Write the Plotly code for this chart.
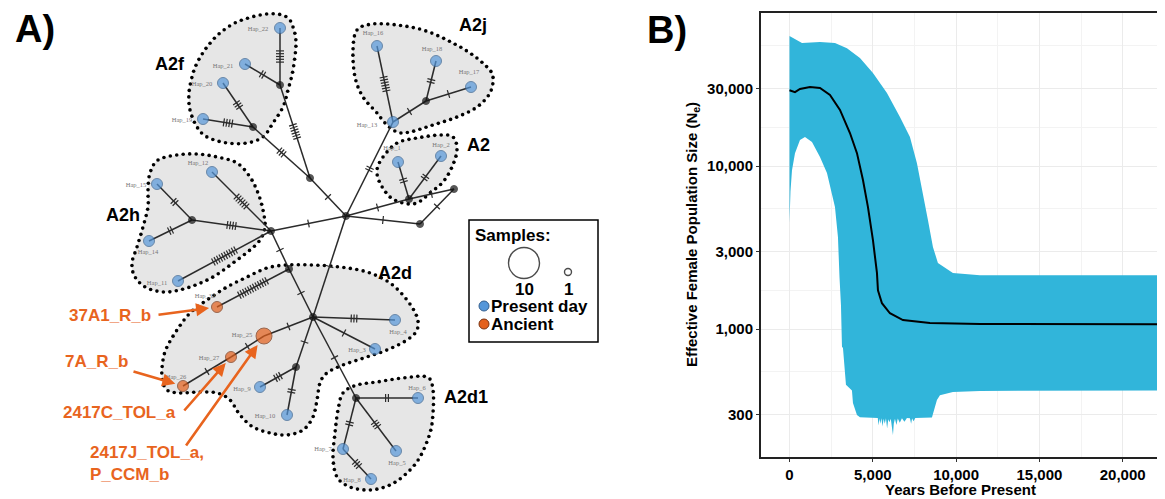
import numpy as np
import plotly.graph_objects as go

W, H = 1165, 499          # page size
OFF = 8                   # page body margin
WF, HF = W - OFF, H - OFF  # figure size

# ---------------- Panel A: haplotype network data ----------------
node_ids = ["Hap_22", "Hap_21", "Hap_20", "Hap_19", "m_f1", "m_f2", "m_f3", "C",
            "Hap_16", "Hap_18", "Hap_17", "Hap_13", "m_j",
            "Hap_1", "Hap_2", "m_a", "m_r", "m_l",
            "Hap_12", "Hap_15", "Hap_14", "Hap_11", "m_h", "m_hj", "m_d",
            "Hap_32", "C2", "Hap_4", "Hap_3", "Hap_25", "Hap_27", "Hap_26",
            "m_9", "Hap_9", "Hap_10",
            "m_d1", "Hap_6", "Hap_7", "Hap_5", "Hap_8"]
node_x = [280, 245, 223, 203, 280, 253, 310, 346,
          377, 436, 471, 393, 426,
          398, 441, 409, 454, 420,
          212, 157, 149, 178, 192, 271, 289,
          217, 313, 395, 375, 264, 231, 183,
          296, 260, 287,
          356, 418, 343, 396, 371]
node_y = [28, 64, 83, 119, 85, 127, 178, 216,
          46, 61, 87, 122, 101,
          162, 156, 199, 189, 224,
          172, 184, 241, 281, 220, 231, 269,
          307, 317, 320, 349, 336, 357, 386,
          367, 387, 415,
          398, 398, 449, 451, 479]
node_kind = ["present", "present", "present", "present", "median", "median", "median", "median",
             "present", "present", "present", "present", "median",
             "present", "present", "median", "median", "median",
             "present", "present", "present", "present", "median", "median", "median",
             "ancient", "median", "present", "present", "ancient", "ancient", "ancient",
             "median", "present", "present",
             "median", "present", "present", "present", "present"]
node_samples = {"Hap_25": 2}

edge_from = ["Hap_22", "Hap_21", "Hap_20", "Hap_19", "m_f1", "m_f2", "m_f3",
             "C", "Hap_16", "Hap_13", "m_j", "m_j",
             "C", "m_a", "m_a", "m_a", "C", "m_l",
             "m_h", "m_h", "m_h", "Hap_12", "Hap_11", "m_hj", "m_hj",
             "m_d", "m_d", "C", "C2", "C2", "C2", "Hap_25", "Hap_27",
             "C2", "m_9", "m_9", "C2", "m_d1", "m_d1", "m_d1", "Hap_7"]
edge_to = ["m_f1", "m_f1", "m_f2", "m_f2", "m_f3", "m_f3", "C",
           "Hap_13", "Hap_13", "m_j", "Hap_18", "Hap_17",
           "m_a", "Hap_1", "Hap_2", "m_r", "m_l", "m_r",
           "Hap_15", "Hap_14", "m_hj", "m_hj", "m_hj", "C", "m_d",
           "Hap_32", "C2", "C2", "Hap_4", "Hap_3", "Hap_25", "Hap_27", "Hap_26",
           "m_9", "Hap_9", "Hap_10", "m_d1", "Hap_6", "Hap_7", "Hap_5", "Hap_8"]
edge_mutations = [5, 2, 3, 4, 6, 3, 1,
                  2, 6, 1, 2, 1,
                  1, 2, 2, 1, 1, 1,
                  2, 2, 4, 6, 10, 1, 1,
                  12, 1, 1, 3, 1, 1, 1, 1,
                  1, 3, 2, 1, 2, 2, 3, 3]

hap_label_pos = {
    "Hap_22": (258, 29), "Hap_21": (223, 66), "Hap_20": (202, 84), "Hap_19": (182, 120),
    "Hap_16": (373, 33), "Hap_18": (432, 49), "Hap_17": (469, 72), "Hap_13": (367, 125),
    "Hap_1": (392, 148), "Hap_2": (441, 145), "Hap_12": (198, 163), "Hap_15": (136, 185),
    "Hap_14": (148, 252), "Hap_11": (157, 283), "Hap_32": (205, 296), "Hap_25": (242, 335),
    "Hap_27": (209, 358), "Hap_26": (176, 377), "Hap_4": (398, 332), "Hap_3": (357, 350),
    "Hap_9": (242, 389), "Hap_10": (265, 416), "Hap_6": (417, 388), "Hap_7": (323, 449),
    "Hap_5": (397, 463), "Hap_8": (352, 480),
}

clusters = ["A2f", "A2j", "A2", "A2h", "A2d", "A2d1"]
cluster_label_pos = [(170, 64), (473, 25), (478, 145), (123, 215), (395, 273), (466, 397)]
cluster_outline = {
    "A2f": [(293, 27), (296, 43), (293, 70), (288, 90), (283, 107), (273, 123), (263, 137),
            (247, 143), (227, 143), (207, 137), (197, 127), (190, 110), (189, 93), (192, 77),
            (197, 63), (207, 47), (220, 33), (237, 22), (260, 15), (277, 14), (288, 18)],
    "A2j": [(357, 30), (373, 24), (397, 25), (423, 30), (447, 40), (470, 53), (487, 67),
            (493, 77), (490, 93), (477, 107), (457, 117), (433, 125), (410, 132), (397, 132),
            (385, 123), (377, 113), (363, 97), (355, 77), (353, 50)],
    "A2": [(383, 157), (397, 143), (417, 138), (440, 135), (453, 137), (457, 150), (452, 167),
           (443, 182), (430, 193), (417, 203), (403, 203), (390, 197), (380, 183), (377, 170)],
    "A2h": [(158, 160), (177, 155), (197, 154), (217, 157), (237, 163), (250, 177), (258, 193),
            (263, 210), (265, 227), (260, 240), (250, 250), (233, 263), (213, 277), (190, 287),
            (167, 292), (147, 288), (135, 277), (132, 263), (137, 247), (143, 227), (148, 207),
            (148, 190), (150, 173)],
    "A2d": [(163, 360), (167, 347), (177, 330), (190, 313), (207, 300), (227, 287), (247, 277),
            (267, 268), (287, 265), (313, 265), (340, 267), (367, 272), (390, 283), (407, 300),
            (417, 317), (417, 330), (407, 340), (387, 350), (367, 357), (343, 365), (327, 373),
            (320, 383), (317, 400), (313, 417), (303, 430), (287, 435), (270, 433), (253, 427),
            (240, 415), (230, 400), (217, 393), (200, 392), (180, 393), (167, 390), (162, 378)],
    "A2d1": [(343, 393), (357, 385), (377, 382), (403, 378), (427, 377), (433, 390), (433, 413),
             (430, 433), (420, 457), (407, 473), (390, 485), (370, 490), (350, 487), (337, 477),
             (333, 457), (335, 433), (338, 410)],
}

ancient_labels = ["37A1_R_b", "7A_R_b", "2417C_TOL_a", "2417J_TOL_a,<br>P_CCM_b"]
ancient_targets = ["Hap_32", "Hap_26", "Hap_27", "Hap_25"]

legend_sizes = [10, 1]

# ---------------- Panel B: Bayesian skyline data ----------------
years_upper = [0, 750, 1830, 2730, 3450, 4230, 5010, 5850, 6630, 7230, 7650, 8010, 8310,
               8610, 8910, 9810, 11430, 22600]
ne_upper = [62800, 56800, 57700, 56800, 52900, 46000, 37200, 28100, 20000, 15100, 10400,
            6830, 4670, 3190, 2540, 2210, 2140, 2140]

years_lower = [0, 60, 150, 330, 630, 930, 1350, 1830, 2250, 2550, 2730, 2910, 3000, 3090,
               3150, 3210, 3390, 3750, 3810, 4050, 4230, 5300, 5340, 5400, 5450, 5520, 5580,
               5650, 5720, 5790, 5860, 5930, 6000, 6080, 6150, 6210, 6260, 6330, 6420, 6500,
               6620, 6750, 6900, 7050, 7230, 7300, 7360, 7450, 7550, 8550, 8850, 9030, 9810,
               11430, 22600]
ne_lower = [4500, 7000, 9440, 12000, 14450, 15080, 14030, 11350, 9060, 6820, 5600, 3660,
            2100, 1400, 780, 765, 455, 420, 352, 297, 288, 285, 256, 283, 262, 284, 252,
            282, 262, 284, 245, 280, 268, 282, 250, 224, 262, 282, 258, 283,
            266, 284, 270, 285, 284, 262, 283, 272, 285, 287, 367, 393, 411,
            417, 420]

years_median = [0, 330, 630, 1230, 1830, 2430, 3030, 3630, 4050, 4410, 4710, 5010, 5250,
                5310, 5550, 6030, 6810, 8430, 11430, 22600]
ne_median = [29200, 28400, 29700, 30500, 30100, 27300, 22100, 15950, 12000, 8210, 5600,
             3510, 2210, 1730, 1440, 1250, 1135, 1088, 1073, 1070]

x_ticks = [0, 5000, 10000, 15000, 20000]
x_ticktext = ["0", "5,000", "10,000", "15,000", "20,000"]
y_ticks = [300, 1000, 3000, 10000, 30000]
y_ticktext = ["300", "1,000", "3,000", "10,000", "30,000"]

# ---------------- styles ----------------
FONT = "Arial, Liberation Sans, sans-serif"
BLUE = "#5597DA"
ORANGE = "#E4601C"
ORANGE_TXT = "#E8641E"
RIBBON = "#31B5DA"
GREY_FILL = "#E6E6E6"


def pxp(x):
    """page pixel x -> paper coordinate"""
    return (x - OFF) / WF


def pyp(y):
    """page pixel y -> paper coordinate"""
    return 1 - (y - OFF) / HF


def closed_spline(pts, n=16):
    P = np.array(pts, float)
    m = len(P)
    out = []
    for i in range(m):
        p0, p1, p2, p3 = P[(i - 1) % m], P[i], P[(i + 1) % m], P[(i + 2) % m]
        for t in np.linspace(0, 1, n, endpoint=False):
            t2, t3 = t * t, t * t * t
            out.append(0.5 * ((2 * p1) + (-p0 + p2) * t + (2 * p0 - 5 * p1 + 4 * p2 - p3) * t2
                              + (-p0 + 3 * p1 - 3 * p2 + p3) * t3))
    out.append(out[0])
    return np.array(out)


def resample(curve, step):
    d = np.hypot(np.diff(curve[:, 0]), np.diff(curve[:, 1]))
    s = np.concatenate([[0], np.cumsum(d)])
    k = max(int(round(s[-1] / step)), 3)
    ss = np.linspace(0, s[-1], k, endpoint=False)
    return np.interp(ss, s, curve[:, 0]), np.interp(ss, s, curve[:, 1])


pos = {n: (x, y) for n, x, y in zip(node_ids, node_x, node_y)}

fig = go.Figure()

# cluster blobs
for c in clusters:
    curve = closed_spline(cluster_outline[c])
    fig.add_trace(go.Scatter(x=curve[:, 0], y=curve[:, 1], mode="lines", fill="toself",
                             fillcolor=GREY_FILL, line=dict(width=0), hoverinfo="skip",
                             xaxis="x", yaxis="y"))
for c in clusters:
    curve = closed_spline(cluster_outline[c])
    dx, dy = resample(curve, 6.5)
    fig.add_trace(go.Scatter(x=dx, y=dy, mode="markers",
                             marker=dict(size=3.6, color="black", line=dict(width=0)),
                             hoverinfo="skip", xaxis="x", yaxis="y"))

# edges with mutation ticks
ex, ey, tx, ty = [], [], [], []
for a, b, n in zip(edge_from, edge_to, edge_mutations):
    x0, y0 = pos[a]
    x1, y1 = pos[b]
    ex += [x0, x1, None]
    ey += [y0, y1, None]
    L = np.hypot(x1 - x0, y1 - y0)
    ux, uy = (x1 - x0) / L, (y1 - y0) / L
    px, py = -uy, ux
    mx, my = (x0 + x1) / 2, (y0 + y1) / 2
    for k in range(n):
        off = (k - (n - 1) / 2) * 2.8
        cx, cy = mx + ux * off, my + uy * off
        tx += [cx - px * 4, cx + px * 4, None]
        ty += [cy - py * 4, cy + py * 4, None]
fig.add_trace(go.Scatter(x=ex, y=ey, mode="lines", line=dict(color="#2b2b2b", width=1.5),
                         hoverinfo="skip", xaxis="x", yaxis="y"))
fig.add_trace(go.Scatter(x=tx, y=ty, mode="lines", line=dict(color="#2b2b2b", width=1.2),
                         hoverinfo="skip", xaxis="x", yaxis="y"))

# nodes
kind_style = {"median": ("#111111", "#111111", 7),
              "present": (BLUE, "#35608f", 11),
              "ancient": (ORANGE, "#7a3210", 11)}
for kind in ["median", "present", "ancient"]:
    xs = [x for x, k in zip(node_x, node_kind) if k == kind]
    ys = [y for y, k in zip(node_y, node_kind) if k == kind]
    ids = [n for n, k in zip(node_ids, node_kind) if k == kind]
    col, lc, sz = kind_style[kind]
    sizes = [sz + 5 * (node_samples.get(n, 1) - 1) for n in ids]
    fig.add_trace(go.Scatter(x=xs, y=ys, mode="markers", text=ids, hoverinfo="text",
                             marker=dict(size=sizes, color=col, line=dict(color=lc, width=1)),
                             xaxis="x", yaxis="y"))

# haplotype labels
lab = [n for n in node_ids if n in hap_label_pos]
fig.add_trace(go.Scatter(x=[hap_label_pos[n][0] for n in lab], y=[hap_label_pos[n][1] for n in lab],
                         mode="text", text=lab,
                         textfont=dict(family="Liberation Serif, serif", size=6.5, color="#777777"),
                         hoverinfo="skip", xaxis="x", yaxis="y"))

# legend box content
fig.add_shape(type="rect", xref="x", yref="y", x0=469, y0=220, x1=598, y1=342,
              line=dict(color="black", width=1.5), fillcolor="white", layer="below")
fig.add_trace(go.Scatter(x=[524, 568], y=[263, 272], mode="markers",
                         marker=dict(size=[31, 7], color="white", line=dict(color="black", width=1.4)),
                         hoverinfo="skip", xaxis="x", yaxis="y"))
fig.add_trace(go.Scatter(x=[484, 484], y=[306, 324], mode="markers",
                         marker=dict(size=10, color=[BLUE, ORANGE],
                                     line=dict(color=["#35608f", "#7a3210"], width=1)),
                         hoverinfo="skip", xaxis="x", yaxis="y"))

ann = []
ann.append(dict(x=513, y=235, xref="x", yref="y", text="<b>Samples:</b>", showarrow=False,
                xanchor="center", yanchor="middle", font=dict(size=17, color="black")))
for s, xx in zip(legend_sizes, [524, 568]):
    ann.append(dict(x=xx, y=289, xref="x", yref="y", text=f"<b>{s}</b>", showarrow=False,
                    xanchor="center", yanchor="middle", font=dict(size=17, color="black")))
ann.append(dict(x=489, y=306, xref="x", yref="y", text="<b>Present day</b>", showarrow=False,
                xanchor="left", yanchor="middle", font=dict(size=17, color="black")))
ann.append(dict(x=489, y=324, xref="x", yref="y", text="<b>Ancient</b>", showarrow=False,
                xanchor="left", yanchor="middle", font=dict(size=17, color="black")))

for c, (lx, ly) in zip(clusters, cluster_label_pos):
    ann.append(dict(x=lx, y=ly, xref="x", yref="y", text=f"<b>{c}</b>", showarrow=False,
                    xanchor="center", yanchor="middle", font=dict(size=18, color="black")))

# ancient sample labels + arrows
anc_text_pos = [(67, 315), (63, 361), (61, 412), (88, 463)]
arrow_tail = [(157, 315), (132, 371), (183, 412), (185, 447)]
arrow_head_gap = 8
for t, tgt, (lx, ly), (axx, ayy) in zip(ancient_labels, ancient_targets, anc_text_pos, arrow_tail):
    ann.append(dict(x=lx, y=ly, xref="x", yref="y", text=f"<b>{t}</b>", showarrow=False,
                    xanchor="left", yanchor="middle", align="left",
                    font=dict(size=17, color=ORANGE_TXT)))
    hx, hy = pos[tgt]
    vx, vy = hx - axx, hy - ayy
    L = np.hypot(vx, vy)
    gap = arrow_head_gap + (3 if tgt == "Hap_25" else 0)
    ann.append(dict(x=hx - vx / L * gap, y=hy - vy / L * gap, xref="x", yref="y",
                    ax=axx, ay=ayy, axref="x", ayref="y", text="", showarrow=True,
                    arrowhead=2, arrowsize=1, arrowwidth=2.6, arrowcolor=ORANGE_TXT))

# panel letters
ann.append(dict(x=pxp(35), y=pyp(29), xref="paper", yref="paper", text="<b>A)</b>",
                xanchor="center", yanchor="middle",
                showarrow=False, font=dict(size=38, color="black")))
ann.append(dict(x=pxp(667), y=pyp(30), xref="paper", yref="paper", text="<b>B)</b>",
                xanchor="center", yanchor="middle",
                showarrow=False, font=dict(size=38, color="black")))

# ---------------- Panel B traces ----------------
poly_x = years_upper + years_lower[::-1]
poly_y = ne_upper + ne_lower[::-1]
fig.add_trace(go.Scatter(x=poly_x, y=poly_y, mode="lines", fill="toself", fillcolor=RIBBON,
                         line=dict(width=0, color=RIBBON), hoverinfo="skip",
                         xaxis="x2", yaxis="y2"))
fig.add_trace(go.Scatter(x=years_median, y=ne_median, mode="lines",
                         line=dict(color="black", width=2), xaxis="x2", yaxis="y2"))

ann.append(dict(x=pxp(960), y=pyp(489), xref="paper", yref="paper",
                text="<b>Years Before Present</b>", showarrow=False,
                xanchor="center", yanchor="middle",
                font=dict(size=15, color="black")))
ann.append(dict(x=pxp(692), y=pyp(235), xref="paper", yref="paper",
                text="<b>Effective Female Population Size (N<sub>e</sub>)</b>", textangle=-90,
                xanchor="center", yanchor="middle",
                showarrow=False, font=dict(size=15, color="black")))

y_minor = [float(np.sqrt(a * b)) for a, b in zip(y_ticks[:-1], y_ticks[1:])] + [float(np.sqrt(30000 * 100000))]

fig.update_layout(
    width=WF, height=HF, margin=dict(l=0, r=0, t=0, b=0),
    paper_bgcolor="white", plot_bgcolor="white", showlegend=False,
    font=dict(family=FONT, color="black"),
    xaxis=dict(domain=[0, 620 / WF], range=[OFF, OFF + 620], visible=False, fixedrange=True),
    yaxis=dict(domain=[0, 1], range=[H, OFF], visible=False, fixedrange=True),
    xaxis2=dict(domain=[pxp(761), 1.0], range=[-1710, 22540], anchor="y2",
                tickvals=x_ticks, ticktext=x_ticktext, showgrid=True, gridcolor="#EBEBEB",
                gridwidth=1.1, zeroline=False,
                minor=dict(tickvals=[2500, 7500, 12500, 17500, 22500], showgrid=True,
                           gridcolor="#F3F3F3", gridwidth=0.8, ticks=""),
                showline=True, linecolor="#222222", linewidth=2, mirror=True,
                ticks="outside", ticklen=3, tickcolor="#333333",
                tickfont=dict(size=15, color="black", weight="bold")),
    yaxis2=dict(domain=[pyp(457), pyp(13)], type="log", range=[2.215, 4.939], anchor="x2",
                tickvals=y_ticks, ticktext=y_ticktext, showgrid=True, gridcolor="#EBEBEB",
                gridwidth=1.1, zeroline=False,
                minor=dict(tickvals=y_minor, showgrid=True, gridcolor="#F3F3F3",
                           gridwidth=0.8, ticks=""),
                showline=True, linecolor="#222222", linewidth=2, mirror=False,
                ticks="outside", ticklen=3, tickcolor="#333333",
                tickfont=dict(size=15, color="black", weight="bold")),
    annotations=ann,
)

fig.write_html("out.html")
